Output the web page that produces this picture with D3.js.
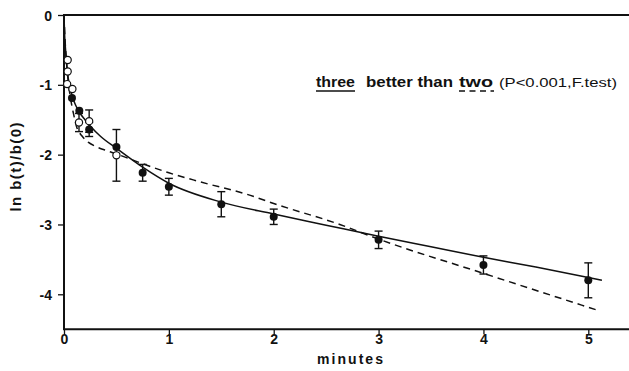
<!DOCTYPE html>
<html>
<head>
<meta charset="utf-8">
<script src="https://cdn.jsdelivr.net/npm/d3@7"></script>
<style>
  body { margin: 0; background: #fff; }
  text { font-family: "Liberation Sans", Arial, sans-serif; fill: #111; }
</style>
</head>
<body>
<script>
const width = 629, height = 371;

// measured points: [minutes, ln b(t)/b(0), error]
const filled_pts = [
    [0.076, -1.19, 0], [0.146, -1.37, 0], [0.24, -1.64, 0.1], [0.5, -1.89, 0],
    [0.75, -2.26, 0.12], [1, -2.46, 0.12], [1.5, -2.71, 0.18], [2, -2.89, 0.11],
    [3, -3.22, 0.125], [4, -3.58, 0.13], [5, -3.80, 0.25]
];
const open_pts = [
    [0.035, -0.645, 0], [0.035, -0.81, 0], [0.03, -0.99, 0], [0.08, -1.06, 0],
    [0.143, -1.54, 0.13], [0.24, -1.52, 0.16], [0.5, -2.01, 0.37]
];

// fitted curves
const three_fit = [
    [0, 0], [0.005, -0.25], [0.015, -0.5], [0.025, -0.7], [0.04, -0.9], [0.06, -1.06],
    [0.08, -1.17], [0.11, -1.29], [0.15, -1.4], [0.2, -1.5], [0.25, -1.59], [0.35, -1.74],
    [0.5, -1.91], [0.75, -2.18], [1, -2.41], [1.5, -2.68], [2, -2.85], [2.5, -3.01],
    [3, -3.17], [3.5, -3.32], [4, -3.47], [4.5, -3.61], [5, -3.76], [5.13, -3.8]
];
const two_fit = [
    [0, 0], [0.01, -0.35], [0.025, -0.7], [0.04, -0.95], [0.06, -1.17], [0.09, -1.41],
    [0.12, -1.6], [0.17, -1.73], [0.23, -1.82], [0.3, -1.88], [0.4, -1.94], [0.5, -1.99],
    [0.75, -2.13], [1, -2.26], [1.3, -2.39], [1.77, -2.58], [2, -2.7], [2.63, -3.0],
    [3, -3.21], [4, -3.7], [5.07, -4.22]
];

const x_ticks = [0, 1, 2, 3, 4, 5];
const y_ticks = [0, -1, -2, -3, -4];

const x = d3.scaleLinear().domain([0, 5]).range([64, 588.3]);
const y = d3.scaleLinear().domain([0, -4.5]).range([15, 329.2]);

const svg = d3.select('body')
    .append('svg')
    .attr('width', width)
    .attr('height', height);

// axes
const x_axis = svg.append('g')
    .attr('transform', 'translate(0,' + y(-4.5) + ')')
    .call(d3.axisBottom(x).tickValues(x_ticks).tickSize(5).tickSizeOuter(0).tickPadding(0)
        .tickFormat(d3.format('d')));
const y_axis = svg.append('g')
    .attr('transform', 'translate(' + x(0) + ',0)')
    .call(d3.axisLeft(y).tickValues(y_ticks).tickSize(6).tickSizeOuter(0).tickPadding(6)
        .tickFormat(d => d === 0 ? '0' : '-' + Math.abs(d)));

[x_axis, y_axis].forEach(function (a) {
    a.select('.domain').remove();
    a.selectAll('line').attr('stroke', '#111').attr('stroke-width', 1.3);
    a.selectAll('text')
        .style('font-size', '14px')
        .style('font-weight', 'bold')
        .style('font-family', '"Liberation Sans", Arial, sans-serif')
        .attr('fill', '#111');
});
y_axis.selectAll('text').attr('dy', '0.36em');

// frame lines (top, bottom, left)
svg.append('line')
    .attr('x1', x(0)).attr('x2', width).attr('y1', y(0)).attr('y2', y(0))
    .attr('stroke', '#111').attr('stroke-width', 2);
svg.append('line')
    .attr('x1', x(0)).attr('x2', width).attr('y1', y(-4.5)).attr('y2', y(-4.5))
    .attr('stroke', '#111').attr('stroke-width', 2);
svg.append('line')
    .attr('x1', x(0)).attr('x2', x(0)).attr('y1', y(0) - 1).attr('y2', y(-4.5) + 1)
    .attr('stroke', '#111').attr('stroke-width', 2);

// axis titles
svg.append('text')
    .attr('x', 350).attr('y', 364)
    .attr('text-anchor', 'middle')
    .attr('textLength', 66).attr('lengthAdjust', 'spacing')
    .style('font-size', '14px').style('font-weight', 'bold')
    .text('minutes');
svg.append('text')
    .attr('transform', 'translate(21,167) rotate(-90)')
    .attr('text-anchor', 'middle')
    .attr('textLength', 89).attr('lengthAdjust', 'spacing')
    .style('font-size', '15px').style('font-weight', 'bold')
    .text('ln b(t)/b(0)');

// curves
const line = d3.line()
    .x(d => x(d[0]))
    .y(d => y(d[1]))
    .curve(d3.curveMonotoneX);

svg.append('path')
    .datum(two_fit)
    .attr('d', line)
    .attr('fill', 'none')
    .attr('stroke', '#111')
    .attr('stroke-width', 1.5)
    .attr('stroke-dasharray', '7,5');

svg.append('path')
    .datum(three_fit)
    .attr('d', line)
    .attr('fill', 'none')
    .attr('stroke', '#111')
    .attr('stroke-width', 1.5);

// error bars
function draw_errors(pts) {
    const g = svg.append('g').attr('stroke', '#111').attr('stroke-width', 1.4);
    pts.filter(d => d[2] > 0).forEach(function (d) {
        const cx = x(d[0]), top = y(d[1] + d[2]), bot = y(d[1] - d[2]);
        g.append('line').attr('x1', cx).attr('x2', cx).attr('y1', top).attr('y2', bot);
        g.append('line').attr('x1', cx - 4).attr('x2', cx + 4).attr('y1', top).attr('y2', top);
        g.append('line').attr('x1', cx - 4).attr('x2', cx + 4).attr('y1', bot).attr('y2', bot);
    });
}
draw_errors(open_pts);
draw_errors(filled_pts);

svg.append('g')
    .selectAll('circle')
    .data(filled_pts)
    .enter().append('circle')
    .attr('cx', d => x(d[0]))
    .attr('cy', d => y(d[1]))
    .attr('r', 4)
    .attr('fill', '#111');

svg.append('g')
    .selectAll('circle')
    .data(open_pts)
    .enter().append('circle')
    .attr('cx', d => x(d[0]))
    .attr('cy', d => y(d[1]))
    .attr('r', 3.6)
    .attr('fill', '#fff')
    .attr('stroke', '#111')
    .attr('stroke-width', 1.2);

// annotation
const note = svg.append('g').style('font-size', '15px');
note.append('text').attr('x', 316).attr('y', 87)
    .attr('textLength', 39).attr('lengthAdjust', 'spacingAndGlyphs')
    .style('font-weight', 'bold').text('three');
note.append('line').attr('x1', 316).attr('x2', 355).attr('y1', 91).attr('y2', 91)
    .attr('stroke', '#111').attr('stroke-width', 1.5);
note.append('text').attr('x', 366).attr('y', 87)
    .attr('textLength', 87).attr('lengthAdjust', 'spacingAndGlyphs')
    .style('font-weight', 'bold').text('better than');
note.append('text').attr('x', 459).attr('y', 87)
    .attr('textLength', 34).attr('lengthAdjust', 'spacingAndGlyphs')
    .style('font-weight', 'bold').text('two');
note.append('line').attr('x1', 459).attr('x2', 494).attr('y1', 91).attr('y2', 91)
    .attr('stroke', '#111').attr('stroke-width', 1.5)
    .attr('stroke-dasharray', '6,4.5');
note.append('text').attr('x', 499).attr('y', 87)
    .attr('textLength', 118).attr('lengthAdjust', 'spacingAndGlyphs')
    .style('font-size', '13px').text('(P<0.001,F.test)');
</script>
</body>
</html>
